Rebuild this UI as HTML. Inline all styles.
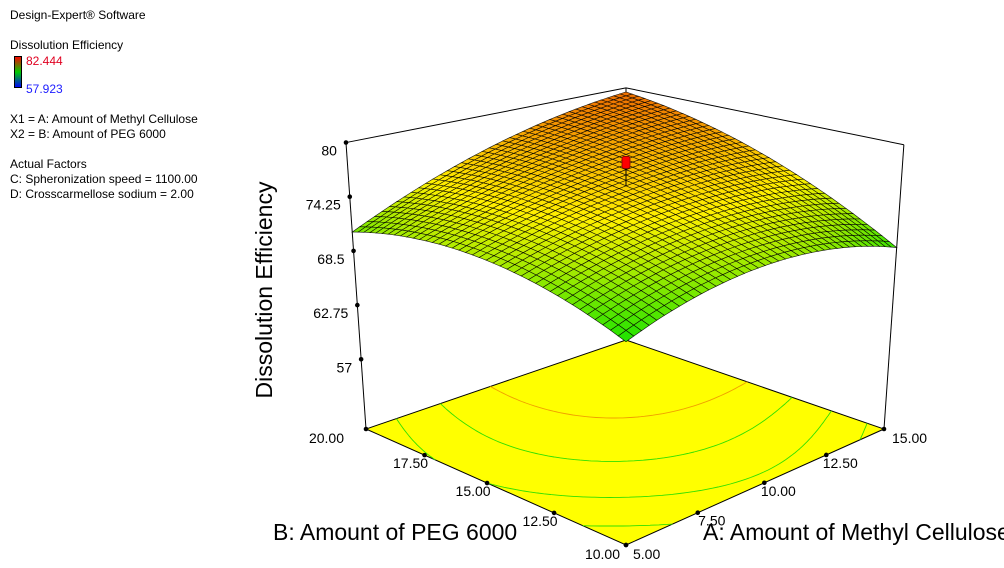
<!DOCTYPE html>
<html><head><meta charset="utf-8"><style>
body{margin:0;background:#fff;width:1004px;height:568px;overflow:hidden;font-family:"Liberation Sans",Arial,sans-serif}
svg{position:absolute;left:0;top:0}
</style></head><body>
<svg id="chart" width="1004" height="568" viewBox="0 0 1004 568" font-family="Liberation Sans, Arial, sans-serif">
<g font-size="12" fill="#000">
<text x="10" y="19">Design-Expert® Software</text>
<text x="10" y="49">Dissolution Efficiency</text>
<defs><linearGradient id="cb" x1="0" y1="0" x2="0" y2="1"><stop offset="0" stop-color="#f00"/><stop offset="0.5" stop-color="#0c0"/><stop offset="1" stop-color="#00f"/></linearGradient></defs>
<rect x="14.5" y="56.5" width="7" height="31" fill="url(#cb)" stroke="#000"/>
<text x="26" y="65" fill="#e00020">82.444</text>
<text x="26" y="93" fill="#2020ff">57.923</text>
<text x="10" y="123">X1 = A: Amount of Methyl Cellulose</text>
<text x="10" y="138">X2 = B: Amount of PEG 6000</text>
<text x="10" y="168">Actual Factors</text>
<text x="10" y="183">C: Spheronization speed = 1100.00</text>
<text x="10" y="198">D: Crosscarmellose sodium  = 2.00</text>
</g>
<g id="floor"></g>
<g id="frame"></g>
<g id="surf"></g>
<g id="labels" font-size="14"></g>
<text transform="translate(272,290) rotate(-90)" text-anchor="middle" font-size="23">Dissolution Efficiency</text>
<text x="273" y="540" font-size="23">B: Amount of PEG 6000</text>
<text x="703" y="540" font-size="23">A: Amount of Methyl Cellulose</text>
</svg>
<script>
// data: response values on 3x3 design grid (rows B=10,15,20; cols A=5,10,15)
const aLevels=[5,10,15];
const bLevels=[10,15,20];
const response=[[68.4,71.5,69.0],[72.0,75.5,76.0],[70.5,76.5,79.5]];
const zTicks=[57,62.75,68.5,74.25,80];
const aTicks=[5,7.5,10,12.5,15];
const bTicks=[10,12.5,15,17.5,20];
const contourLevels=[68,70,72,74,76];
const designPoint=[10,15,78.0];
const colorMin=57.923, colorMax=82.444;

const NS='http://www.w3.org/2000/svg';
function mk(t,attrs,parent){const e=document.createElementNS(NS,t);for(const k in attrs)e.setAttribute(k,attrs[k]);parent.appendChild(e);return e;}
const P=[[626,545],[884,429],[626,340],[366,429]];
const x0=P[0][0],y0=P[0][1],x1=P[1][0],y1=P[1][1],x2=P[2][0],y2=P[2][1],x3=P[3][0],y3=P[3][1];
const dx1=x1-x2,dx2=x3-x2,dx3=x0-x1+x2-x3,dy1=y1-y2,dy2=y3-y2,dy3=y0-y1+y2-y3;
const den=dx1*dy2-dx2*dy1;
const G=(dx3*dy2-dx2*dy3)/den,H=(dx1*dy3-dx3*dy1)/den;
const HA=x1-x0+G*x1,HB=x3-x0+H*x3,HD=y1-y0+G*y1,HE=y3-y0+H*y3;
const zFloor=49.6;
const s0=9.35*(G*1+1);
function proj(A,B,z){
  const u=(A-5)/10,v=(B-10)/10;
  const w=G*u+H*v+1;
  const fx=(HA*u+HB*v+x0)/w, fy=(HD*u+HE*v+y0)/w;
  const dz=z-zFloor;
  return [626+(fx-626)*(1+0.077*dz/30.4), fy-dz*s0/w];
}
function L(vals,t){return vals[0]*t*(t-1)/2+vals[1]*(1-t*t)+vals[2]*t*(t+1)/2;}
function f(A,B){const u=(A-10)/5,v=(B-15)/5;const rows=response.map(r=>L(r,u));return L(rows,v);}
function color(z){
  let t=Math.max(0,Math.min(1,(z-colorMin)/(colorMax-colorMin)));
  const st=[[0,0,0,255],[0.4,0,225,0],[0.66,255,240,0],[1,230,40,0]];
  for(let i=0;i<3;i++){if(t<=st[i+1][0]){const k=(t-st[i][0])/(st[i+1][0]-st[i][0]);
    return 'rgb('+[1,2,3].map(j=>Math.round(st[i][j]+k*(st[i+1][j]-st[i][j]))).join(',')+')';}}
  return 'rgb(230,40,0)';}
const pt=p=>p[0].toFixed(1)+','+p[1].toFixed(1);
const floor=document.getElementById('floor');
const fl=mk('polygon',{points:[proj(5,10,zFloor),proj(15,10,zFloor),proj(15,20,zFloor),proj(5,20,zFloor)].map(pt).join(' '),fill:'#ffff00',stroke:'#000','stroke-width':1},floor);


const N=60;
for(const lev of contourLevels){
  let d='';
  for(let i=0;i<N;i++)for(let j=0;j<N;j++){
    const A0=5+10*i/N,A1=5+10*(i+1)/N,B0=10+10*j/N,B1=10+10*(j+1)/N;
    const c=[[A0,B0],[A1,B0],[A1,B1],[A0,B1]];const val=c.map(q=>f(q[0],q[1])-lev);
    const pts=[];
    for(let k=0;k<4;k++){const a=val[k],b=val[(k+1)%4];if((a<0)!=(b<0)){const t=a/(a-b);
      pts.push([c[k][0]+t*(c[(k+1)%4][0]-c[k][0]),c[k][1]+t*(c[(k+1)%4][1]-c[k][1])]);}}
    if(pts.length>=2){d+='M'+pt(proj(pts[0][0],pts[0][1],zFloor))+'L'+pt(proj(pts[1][0],pts[1][1],zFloor));}
    if(pts.length==4){d+='M'+pt(proj(pts[2][0],pts[2][1],zFloor))+'L'+pt(proj(pts[3][0],pts[3][1],zFloor));}
  }
  const p=mk('path',{d:d,stroke:lev>=76?'#f0a000':'#30e000','stroke-width':0.9,fill:'none'},floor);
  
  
}
const frame=document.getElementById('frame');
function line(a,b,name){const e=mk('line',{x1:a[0],y1:a[1],x2:b[0],y2:b[1],stroke:'#000','stroke-width':1},frame);
  
  }
line(proj(5,20,zFloor),proj(5,20,80),'z-axis-line');
line(proj(15,10,zFloor),proj(15,10,80),'right-vertical-edge');
line(proj(15,20,zFloor),proj(15,20,80),'back-vertical-edge');
line(proj(5,20,80),proj(15,20,80),'top-back-left-edge');
line(proj(15,20,80),proj(15,10,80),'top-back-right-edge');
const labels=document.getElementById('labels');
function dot(p){const e=mk('circle',{cx:p[0],cy:p[1],r:2.3,fill:'#000'},frame);
  
  }
function txt(x,y,s,anchor){const e=mk('text',{x:x,y:y,'text-anchor':anchor},labels);e.textContent=s;
  
  }
for(const z of zTicks){const p=proj(5,20,z);dot(p);txt(p[0]-9,p[1]+13,String(z),'end');}
for(const b of bTicks){const p=proj(5,b,zFloor);dot(p);
  if(b==20)txt(p[0]-22,p[1]+14,b.toFixed(2),'end');
  else if(b==10)txt(p[0]-6,p[1]+14,b.toFixed(2),'end');
  else txt(p[0]-14,p[1]+13,b.toFixed(2),'middle');}
for(const a of aTicks){const p=proj(a,10,zFloor);dot(p);
  if(a==15)txt(p[0]+8,p[1]+14,a.toFixed(2),'start');
  else if(a==5)txt(p[0]+7,p[1]+14,a.toFixed(2),'start');
  else txt(p[0]+14,p[1]+13,a.toFixed(2),'middle');}
const surf=document.getElementById('surf');
const M=40;const quads=[];
for(let i=0;i<M;i++)for(let j=0;j<M;j++){
  const A0=5+10*i/M,A1=5+10*(i+1)/M,B0=10+10*j/M,B1=10+10*(j+1)/M;
  quads.push({d:i+j,c:[[A0,B0],[A1,B0],[A1,B1],[A0,B1]]});}
quads.sort((p,q)=>q.d-p.d);
for(const q of quads){
  const zc=f((q.c[0][0]+q.c[2][0])/2,(q.c[0][1]+q.c[2][1])/2);
  const e=mk('polygon',{points:q.c.map(c=>pt(proj(c[0],c[1],f(c[0],c[1])))).join(' '),fill:color(zc),stroke:'#000','stroke-width':0.6,'stroke-opacity':0.9},surf);
  
  }
const dp=proj(designPoint[0],designPoint[1],designPoint[2]);
const ds=proj(designPoint[0],designPoint[1],f(designPoint[0],designPoint[1]));
const st=mk('line',{x1:dp[0],y1:dp[1],x2:ds[0],y2:ds[1],stroke:'#000','stroke-width':1},surf);


const rp=mk('rect',{x:dp[0]-4,y:dp[1]-6,width:8,height:12,rx:2,fill:'#f00',stroke:'#800','stroke-width':0.8},surf);


</script>
</body></html>
